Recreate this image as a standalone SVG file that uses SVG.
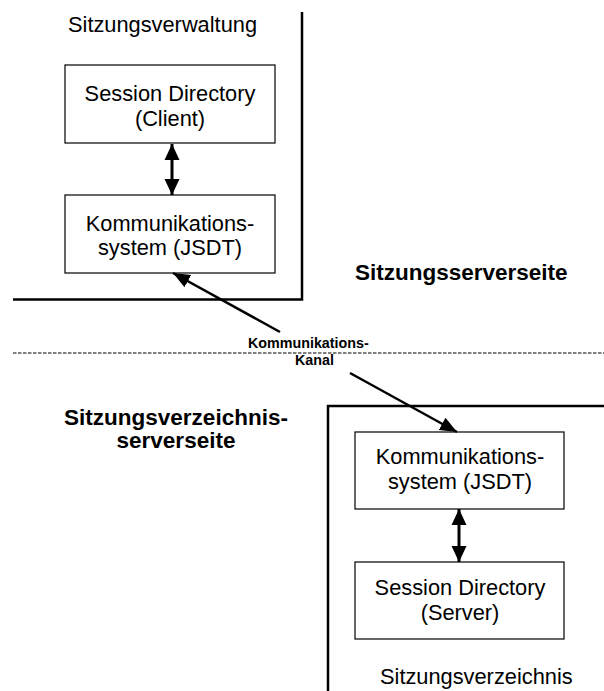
<svg xmlns="http://www.w3.org/2000/svg" width="604" height="691" viewBox="0 0 604 691">
<style>
.bg{fill:#fff}
.box{fill:#fff;stroke:#000;stroke-width:1.2}
.frame{fill:none;stroke:#000;stroke-width:2.5}
.t{font-family:"Liberation Sans",Arial,sans-serif;font-size:21.8px;fill:#000}
.c{text-anchor:middle}
.b{font-weight:bold;font-size:22.5px}
.s{font-family:"Liberation Sans",Arial,sans-serif;font-size:14.3px;font-weight:bold;fill:#000}
.dbl{stroke:#000;stroke-width:3;marker-start:url(#ah);marker-end:url(#ah)}
.diag{stroke:#000;stroke-width:2.5;marker-end:url(#ah2)}
.dash{stroke:#000;stroke-width:1;stroke-dasharray:3.5 1.5}
</style>
<defs>
<marker id="ah" markerUnits="userSpaceOnUse" markerWidth="18" markerHeight="16" refX="16" refY="8" orient="auto-start-reverse">
<path d="M0,0.5 L16,8 L0,15.5 Z" fill="#000"/>
</marker>
<marker id="ah2" markerUnits="userSpaceOnUse" markerWidth="18" markerHeight="16" refX="17" refY="8" orient="auto">
<path d="M0,1 L17,8 L0,15 Z" fill="#000"/>
</marker>
</defs>
<rect class="bg" x="0" y="0" width="604" height="691"/>
<g id="frames">
<path class="frame" d="M302,12 V299.5 H13"/>
<path class="frame" d="M328,691 V406 H604"/>
<line class="dash" x1="13" y1="353" x2="604" y2="353"/>
</g>
<text class="t" x="68" y="32">Sitzungsverwaltung</text>
<text class="t b" x="355" y="280">Sitzungsserverseite</text>
<text class="t b c" x="176" y="425">Sitzungsverzeichnis-</text>
<text class="t b c" x="176" y="448">serverseite</text>
<text class="t" x="380" y="684">Sitzungsverzeichnis</text>
<g id="client-sd">
<rect class="box" x="65" y="65" width="210" height="78"/>
<text class="t c" x="170" y="101">Session Directory</text>
<text class="t c" x="170" y="126">(Client)</text>
</g>
<g id="client-jsdt">
<rect class="box" x="65" y="195" width="210" height="78"/>
<text class="t c" x="170" y="231">Kommunikations-</text>
<text class="t c" x="170" y="255">system (JSDT)</text>
</g>
<g id="server-jsdt">
<rect class="box" x="355" y="432" width="209" height="77"/>
<text class="t c" x="460" y="464">Kommunikations-</text>
<text class="t c" x="460" y="489">system (JSDT)</text>
</g>
<g id="server-sd">
<rect class="box" x="355" y="562" width="209" height="77"/>
<text class="t c" x="460" y="595">Session Directory</text>
<text class="t c" x="460" y="620">(Server)</text>
</g>
<g id="connectors">
<line class="dbl" x1="172" y1="144" x2="172" y2="195"/>
<line class="dbl" x1="459" y1="509" x2="459" y2="562"/>
<line class="diag" x1="280" y1="332" x2="173" y2="273"/>
<line class="diag" x1="350" y1="373" x2="457" y2="432"/>
</g>
<g id="channel-label">
<text class="s" x="248" y="348">Kommunikations-</text>
<text class="s" x="295" y="365">Kanal</text>
</g>
</svg>
